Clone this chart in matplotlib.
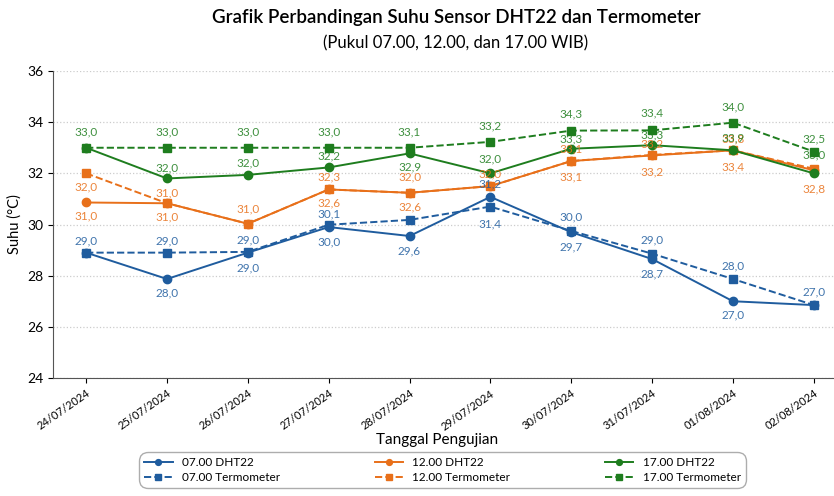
import matplotlib
matplotlib.use("Agg")
import matplotlib.pyplot as plt
import numpy as np

plt.rcParams['font.family'] = ['Lato', 'DejaVu Sans']

# data
dates = ['24/07/2024', '25/07/2024', '26/07/2024', '27/07/2024', '28/07/2024',
         '29/07/2024', '30/07/2024', '31/07/2024', '01/08/2024', '02/08/2024']

dht_07 = [28.9, 27.87, 28.9, 29.9, 29.55, 31.08, 29.7, 28.65, 27.0, 26.85]
term_07 = [28.9, 28.9, 28.93, 29.99, 30.18, 30.7, 29.75, 28.86, 27.87, 26.85]
dht_12 = [30.86, 30.83, 30.03, 31.37, 31.24, 31.5, 32.48, 32.7, 32.9, 32.12]
term_12 = [32.0, 30.83, 30.03, 31.37, 31.24, 31.5, 32.48, 32.72, 32.9, 32.18]
dht_17 = [33.0, 31.8, 31.94, 32.23, 32.78, 32.0, 32.96, 33.1, 32.9, 32.0]
term_17 = [33.0, 33.0, 33.0, 33.0, 33.0, 33.23, 33.67, 33.68, 33.98, 32.85]

# value labels as printed on the chart (None = no label)
lbl_dht_07 = [None, '28,0', '29,0', '30,0', '29,6', '31,2', '29,7', '28,7', '27,0', None]
lbl_term_07 = ['29,0', '29,0', '29,0', '30,1', None, '31,4', '30,0', '29,0', '28,0', '27,0']
lbl_dht_12 = ['31,0', '31,0', '31,0', '32,6', '32,6', '32,0', '33,1', '33,2', '33,4', '32,8']
lbl_term_12 = ['32,0', '31,0', None, '32,3', '32,0', None, '33,1', '33,2', '33,8', None]
lbl_dht_17 = [None, '32,0', '32,0', '32,2', '32,9', '32,0', '33,3', '33,3', '33,9', '33,0']
lbl_term_17 = ['33,0', '33,0', '33,0', '33,0', '33,1', '33,2', '34,3', '33,4', '34,0', '32,5']

# vertical label offsets in pixels (positive = above the marker)
off_dht_07 = [0, -14, -15, -15, -15, 13, -15, -15, -14, 0]
off_term_07 = [12, 12, 12, 11, 0, -17, 14, 14, 13, 13]
off_dht_12 = [-13, -14, 15, -13, -14, 12, -16, -16, -17, -19]
off_term_12 = [-14, 10, 0, 13, 16, 0, 12, 11, 11, 0]
off_dht_17 = [0, 11, 12, 12, -14, 14, 10, 10, 12, 18]
off_term_17 = [16, 16, 16, 16, 16, 16, 17, 17, 16, 13]

blue = '#1f5c9e'
orange = '#e8701a'
green = '#1e7d1e'

fig = plt.figure(figsize=(8.34, 4.96), dpi=100)
ax = fig.add_axes([53 / 834, 118 / 496, 781 / 834, 307 / 496])

x = np.arange(len(dates))

series = [
    (dht_07, lbl_dht_07, off_dht_07, blue, '-', 'o', '07.00 DHT22'),
    (term_07, lbl_term_07, off_term_07, blue, '--', 's', '07.00 Termometer'),
    (dht_12, lbl_dht_12, off_dht_12, orange, '-', 'o', '12.00 DHT22'),
    (term_12, lbl_term_12, off_term_12, orange, '--', 's', '12.00 Termometer'),
    (dht_17, lbl_dht_17, off_dht_17, green, '-', 'o', '17.00 DHT22'),
    (term_17, lbl_term_17, off_term_17, green, '--', 's', '17.00 Termometer'),
]

for vals, lbls, offs, col, ls, mk, name in series:
    ax.plot(x, vals, color=col, linestyle=ls, marker=mk, linewidth=1.4,
            markersize=6 if mk == 'o' else 6.2, label=name)
    for xi, v, t, o in zip(x, vals, lbls, offs):
        if t is None:
            continue
        ax.annotate(t, (xi, v), xytext=(0, o), textcoords='offset pixels',
                    ha='center', va='center', fontsize=8.5, color=col, alpha=0.85)

ax.set_ylim(24, 36)
ax.set_yticks(np.arange(24, 37, 2))
ax.set_xlim(-0.41, 9.25)
ax.set_xticks(x)
ax.set_xticklabels(dates, rotation=35, ha='right', rotation_mode='anchor', fontsize=8)
ax.tick_params(axis='y', labelsize=10)
ax.grid(axis='y', linestyle=':', color='#cccccc', linewidth=0.9)
ax.set_axisbelow(True)
for s in ['top', 'right']:
    ax.spines[s].set_visible(False)
for s in ['left', 'bottom']:
    ax.spines[s].set_color('#555555')

ax.set_ylabel('Suhu (°C)', fontsize=10.5)
fig.text(437 / 834, 1 - 440 / 496, 'Tanggal Pengujian', ha='center', va='center', fontsize=11)

fig.text(456 / 834, 1 - 18 / 496, 'Grafik Perbandingan Suhu Sensor DHT22 dan Termometer',
         ha='center', va='center', fontsize=13.5, fontweight='semibold')
fig.text(456 / 834, 1 - 43 / 496, '(Pukul 07.00, 12.00, dan 17.00 WIB)',
         ha='center', va='center', fontsize=12)

leg = fig.legend(loc='lower left', bbox_to_anchor=(133 / 834, 2 / 496, 619 / 834, 40 / 496),
                 mode='expand', ncol=3, fontsize=8.5, frameon=True, fancybox=True,
                 borderpad=0.45, labelspacing=0.3, handlelength=2.4, markerscale=0.7)
leg.get_frame().set_edgecolor('#999999')
leg.get_frame().set_boxstyle('round', pad=0, rounding_size=0.8)

fig.savefig('out.png', dpi=100)
